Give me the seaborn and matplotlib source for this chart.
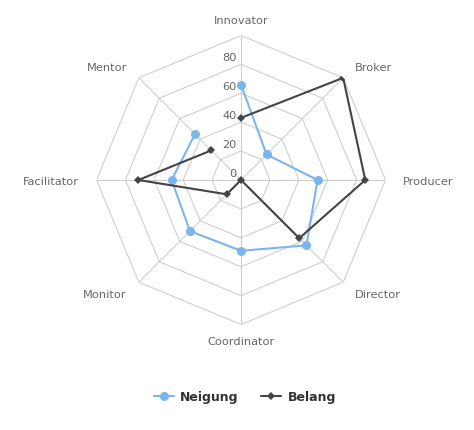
import numpy as np
import pandas as pd
import matplotlib
matplotlib.use("Agg")
import matplotlib.pyplot as plt
import seaborn as sns

categories = ["Innovator", "Broker", "Producer", "Director",
              "Coordinator", "Monitor", "Facilitator", "Mentor"]
neigung = [66, 25, 53, 64, 49, 50, 48, 45]
belang = [43, 100, 86, 57, 0, 14, 71, 29]
ring_levels = [20, 40, 60, 80, 100]
tick_labels = [0, 20, 40, 60, 80]
series_names = ["Neigung", "Belang"]

sns.set_style("white")
plt.rcParams["font.family"] = ["DejaVu Sans"]

W, H = 474, 430
fig = plt.figure(figsize=(W / 100, H / 100), dpi=100)
cx, cy, R = 241, 180, 144.5
ax = fig.add_axes([(cx - R) / W, (H - cy - R) / H, 2 * R / W, 2 * R / H],
                  projection="polar")
ax.set_theta_zero_location("N")
ax.set_theta_direction(-1)
ax.set_ylim(0, 100)
ax.grid(False)
ax.spines["polar"].set_visible(False)
ax.set_xticks([])
ax.set_yticks([])
ax.patch.set_alpha(0)

n = len(categories)
theta = np.arange(n) * 2 * np.pi / n
theta_closed = np.append(theta, theta[0])

grid_col = "#cccccc"
for lv in ring_levels:
    ax.plot(theta_closed, [lv] * (n + 1), color=grid_col, lw=0.75, zorder=1)
for t in theta:
    ax.plot([t, t], [0, 100], color=grid_col, lw=0.75, zorder=1)

df_n = pd.DataFrame({"theta": theta_closed, "value": neigung + [neigung[0]]})
df_b = pd.DataFrame({"theta": theta_closed, "value": belang + [belang[0]]})

blue = "#7cb5ec"
dark = "#434348"
sns.lineplot(data=df_n, x="theta", y="value", ax=ax, sort=False, color=blue,
             lw=1.5, marker="o", markersize=6.5, markeredgewidth=0,
             label=series_names[0], zorder=3)
sns.lineplot(data=df_b, x="theta", y="value", ax=ax, sort=False, color=dark,
             lw=1.5, marker="D", markersize=4.5, markeredgewidth=0,
             label=series_names[1], zorder=4)
ax.set_xlabel("")
ax.set_ylabel("")
ax.set_xticks([])
ax.set_yticks([])
ax.set_ylim(0, 100)

txt_col = "#666666"
fs = 8.2
offsets = [
    (0, 15, "center"), (12, 9.5, "left"), (17, -1.7, "left"),
    (12, -12.7, "left"), (0, -17.4, "center"), (-12, -12.7, "right"),
    (-17.5, -1.7, "right"), (-12, 9.5, "right"),
]
for t, lab, (dx, dy, ha) in zip(theta, categories, offsets):
    ax.annotate(lab, xy=(t, 100), xytext=(dx, dy), textcoords="offset pixels",
                ha=ha, va="center", fontsize=fs, color=txt_col,
                annotation_clip=False)

for v in tick_labels:
    ax.annotate(str(v), xy=(0, v), xytext=(-4, 6), textcoords="offset pixels",
                ha="right", va="center", fontsize=fs, color=txt_col,
                annotation_clip=False)

handles, labels = ax.get_legend_handles_labels()
ax.get_legend().remove()
leg = fig.legend(handles, labels, loc="center", bbox_to_anchor=(245 / W, 1 - 397 / H),
                 ncol=2, frameon=False, handlelength=1.6, columnspacing=1.8,
                 handletextpad=0.5,
                 prop={"weight": "bold", "size": 9})
for t in leg.get_texts():
    t.set_color("#333333")

fig.savefig("out.png", dpi=100)
